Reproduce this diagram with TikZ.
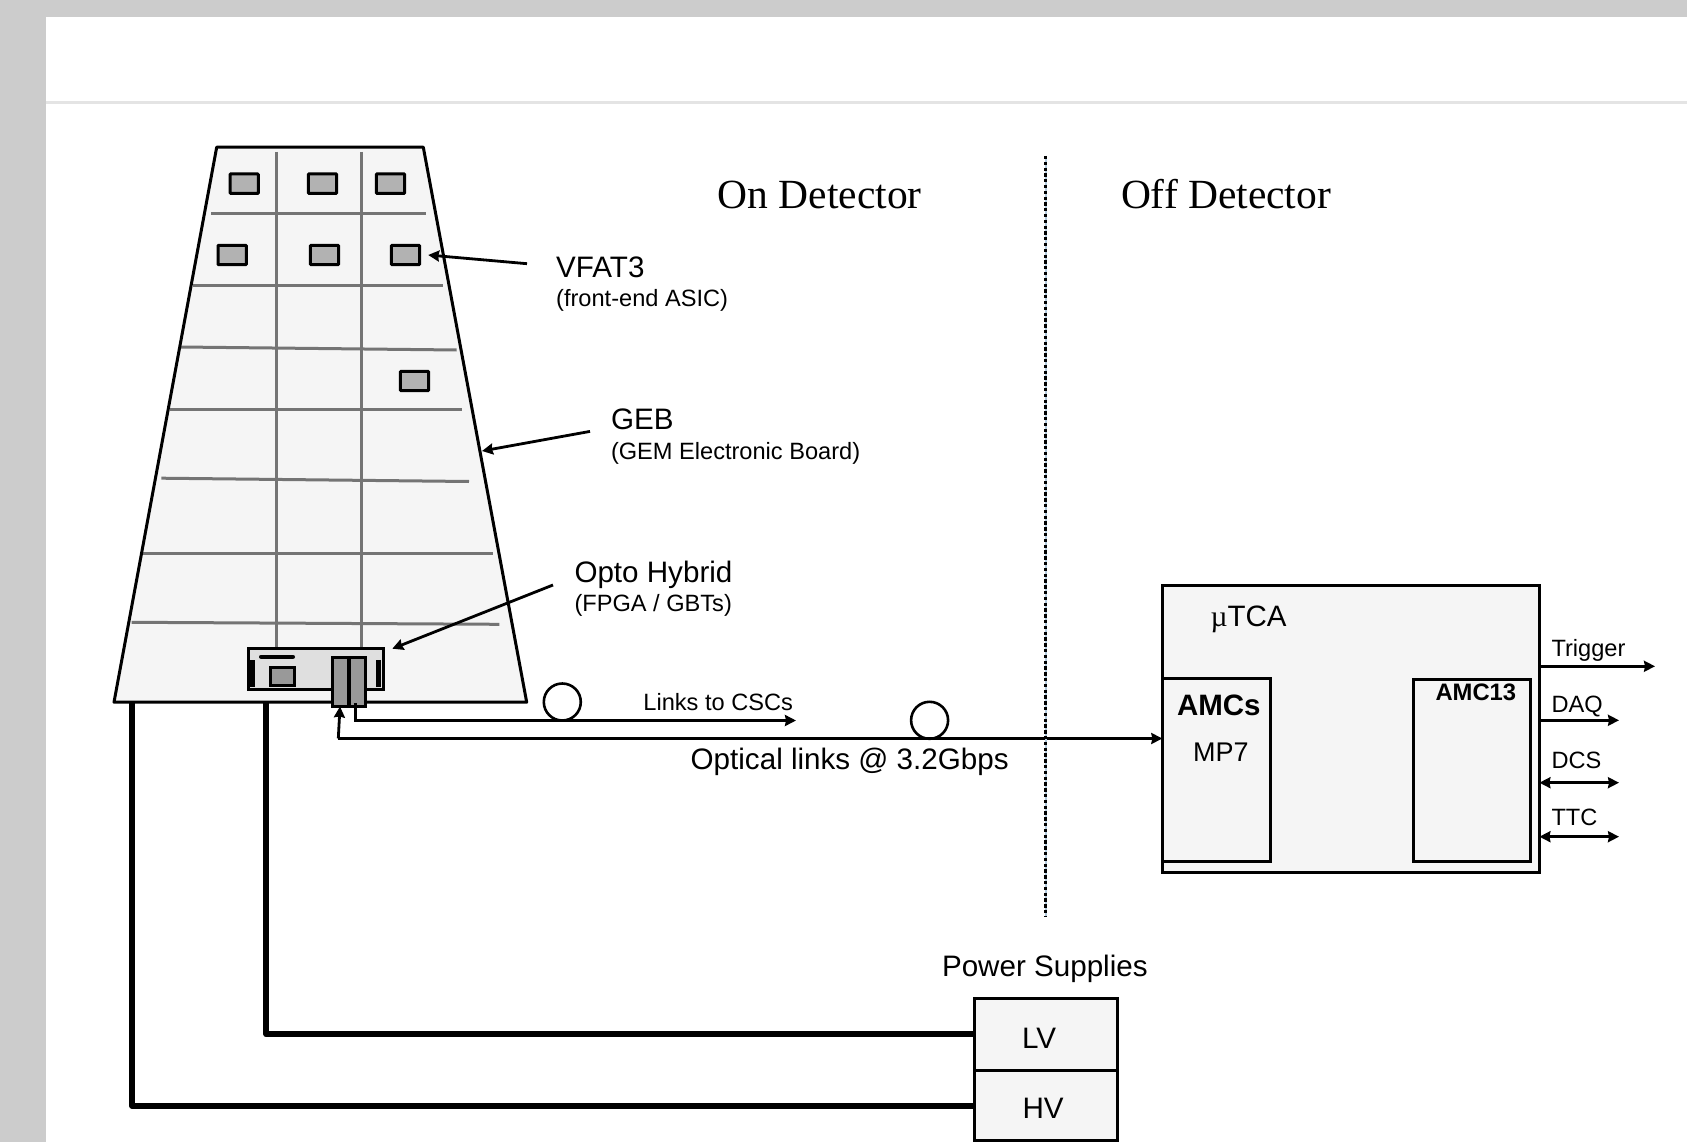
\documentclass[tikz,border=0pt]{standalone}
\usepackage{fontspec}
\setmainfont{Liberation Sans}
\newfontfamily\timesf{Liberation Serif}
\usetikzlibrary{arrows.meta}
\tikzset{
  x=1pt,y=-1pt,
  tip/.style={-{Stealth[length=11pt,width=11pt,inset=1pt]}},
  tiptwo/.style={{Stealth[length=11pt,width=11pt,inset=1pt]}-{Stealth[length=11pt,width=11pt,inset=1pt]}},
  conn/.style={draw=black,line width=2.8pt},
  panel/.style={draw=black,line width=3pt,fill=panelc,rectangle,inner sep=0pt,outer sep=0pt},
  vfat/.style={draw=black,line width=3pt,fill=vfatc,rectangle,inner sep=0pt,outer sep=0pt,rounded corners=0.8pt,minimum width=28.4pt,minimum height=19.4pt},
  grid line/.style={draw=gridc,line width=3pt},
  power/.style={draw=black,line width=6pt},
  lab/.style={anchor=base west,inner sep=0pt,outer sep=0pt,text=black},
  big/.style={lab,font=\fontsize{29.6}{32}\selectfont},
  small/.style={lab,font=\fontsize{23.6}{26}\selectfont},
  head/.style={lab,font=\timesf\fontsize{41.5}{44}\selectfont},
}
\definecolor{panelc}{HTML}{F5F5F5}
\definecolor{vfatc}{HTML}{B2B2B2}
\definecolor{gridc}{HTML}{747474}
\definecolor{frame}{HTML}{CCCCCC}
\definecolor{sepc}{HTML}{E4E4E4}
\definecolor{optoc}{HTML}{DFDFDF}
\definecolor{connc}{HTML}{999999}
\definecolor{dotc}{HTML}{B4CCE0}
\newcommand{\boxat}[6]{%
  \pgfmathsetmacro{\bw}{#5-#3}\pgfmathsetmacro{\bh}{#6-#4}%
  \node[#1,anchor=north west,minimum width=\bw pt,minimum height=\bh pt] (#2) at (#3,#4) {};}
\begin{document}
\begin{tikzpicture}
\useasboundingbox (0,0) rectangle (1687,1142);
% page frame
\fill[frame] (0,0) rectangle (1687,1142);
\fill[white] (46,17) rectangle (1687,1142);
\fill[sepc] (46,101) rectangle (1687,104);
% chamber
\coordinate (tl) at (216.7,147.2);
\coordinate (tr) at (423.3,147.2);
\coordinate (br) at (526.7,702.2);
\coordinate (bl) at (114,702.2);
\fill[panelc] (tl) -- (tr) -- (br) -- (bl) -- cycle;
% grid
\draw[grid line] (276,152) -- (276,648);
\draw[grid line] (361,152) -- (361,648);
\draw[grid line] (211,214) -- (426,214);
\draw[grid line] (193.3,285.7) -- (443.3,285.7);
\draw[grid line] (180,347) -- (456.7,350);
\draw[grid line] (170,409.3) -- (462.3,409.3);
\draw[grid line] (161.4,478.2) -- (469,481.5);
\draw[grid line] (143,553) -- (492.8,553);
\draw[grid line] (131.7,622.3) -- (499.3,624.3);
\draw[line width=3pt,line join=round] (tl) -- (tr) -- (br) -- (bl) -- cycle;
% VFATs
\node[vfat,anchor=north west] (v1) at (230,174) {};
\node[vfat,anchor=north west] (v2) at (308.3,174) {};
\node[vfat,anchor=north west] (v3) at (376.3,174) {};
\node[vfat,anchor=north west] (v4) at (218,245.3) {};
\node[vfat,anchor=north west] (v5) at (310.3,245.3) {};
\node[vfat,anchor=north west] (v6) at (391.3,245.3) {};
\node[vfat,anchor=north west] (v7) at (400.3,371.3) {};
% opto hybrid
\boxat{panel,fill=optoc}{opto}{248.3}{648.7}{383.3}{689.7}
\draw[line width=4pt,line cap=round] (261,656.7) -- (293,656.7);
\draw[line width=5pt] (252.7,660) -- (252.7,687.3);
\draw[line width=5pt] (378.7,660) -- (378.7,687.3);
\boxat{panel,fill=connc}{fpga}{270.3}{667}{294}{685.3}
\boxat{panel,fill=connc}{gbt}{332}{657.3}{365.3}{706}
\draw[line width=4.5pt] (349,657.3) -- (349,706);
% power lines
\boxat{panel}{lv}{974}{998.3}{1117.3}{1070}
\boxat{panel}{hv}{974}{1070}{1117.3}{1140.7}
\coordinate (lvs) at (266.3,703);
\coordinate (hvs) at (132,703);
\draw[power,line join=round] (lvs) -- (266.3,1034.3) -- (lv.west |- 0,1034.3);
\draw[power,line join=round] (hvs) -- (132,1105.7) -- (hv.west |- 0,1105.7);
% microTCA
\boxat{panel}{utca}{1162.3}{585.3}{1539.4}{872.3}
\boxat{panel}{amcs}{1162.3}{678.3}{1270.5}{861.7}
\boxat{panel}{amc13}{1413.5}{679.3}{1530}{861.7}
% fibre loops
\node[draw=black,line width=2.6pt,circle,inner sep=0pt,outer sep=0pt,minimum size=37pt] (loopa) at (562.3,702) {};
\node[draw=black,line width=2.6pt,circle,inner sep=0pt,outer sep=0pt,minimum size=37pt] (loopb) at (929.6,720.3) {};
% links
\coordinate (csc) at (796,720.5);
\draw[conn,tip] (355.7,703.3) -- (355.7,720.5) -- (csc);
\draw[conn,tip] (338.3,738.5) -- (340,706.5);
\draw[conn,tip] (338.3,738.5) -- (amcs.west |- 0,738.5);
% outputs
\coordinate (otrig) at (1655,666.3);
\coordinate (odaq) at (1619,720.3);
\coordinate (odcs) at (1619,782.7);
\coordinate (ottc) at (1619,836.7);
\draw[conn,tip] (utca.east |- otrig) -- (otrig);
\draw[conn,tip] (utca.east |- odaq) -- (odaq);
\draw[conn,tiptwo] (utca.east |- odcs) -- (odcs);
\draw[conn,tiptwo] (utca.east |- ottc) -- (ottc);
% callouts
\coordinate (cvfat) at (527,263.7);
\coordinate (cgeb) at (590,431.4);
\coordinate (cgebt) at (482,451);
\coordinate (copto) at (553,585);
\draw[conn,tip] (cvfat) -- ([xshift=8.5pt]v6.east);
\draw[conn,tip] (cgeb) -- (cgebt);
\draw[conn,tip] (copto) -- ([xshift=9pt]opto.north east);
% divider
\coordinate (da) at (1045.8,156);
\coordinate (db) at (1045.8,917);
\draw[line width=1.6pt,dotc] (da) -- (db);
\draw[line width=3.3pt,black,dash pattern=on 3.3pt off 2.5pt] (da) -- (db);
% labels
\node[head] (ton) at (717.6,208.8) {On Detector};
\node[head] (toff) at (1121,208.8) {Off Detector};
\node[big] (tvfat) at (556.2,277.6) {VFAT3};
\node[small] (tvfats) at (556.2,306.6) {(front-end ASIC)};
\node[big] (tgeb) at (611,429.3) {GEB};
\node[small] (tgebs) at (611,459.4) {(GEM Electronic Board)};
\node[big] (topto) at (574.5,582) {Opto Hybrid};
\node[small] (toptos) at (574.5,611) {(FPGA / GBTs)};
\node[small] (tcsc) at (643.4,710) {Links to CSCs};
\node[big] (tlinks) at (690.7,769) {Optical links @ 3.2Gbps};
\node[big] (tps) at (942,976.8) {Power Supplies};
\node[big] (tlv) at (1022,1048.2) {LV};
\node[big] (thv) at (1022.5,1118.6) {HV};
\node[big,font=\fontsize{29.5}{32}\selectfont] (tutca) at (1210.5,626.7) {{\timesf µ}TCA};
\node[big,font=\bfseries\fontsize{29.5}{32}\selectfont] (tamcs) at (1177,715.8) {AMCs};
\node[big,font=\fontsize{27}{30}\selectfont] (tmp) at (1193,761.2) {MP7};
\node[small,font=\bfseries\fontsize{23.8}{26}\selectfont] (tamc) at (1435.5,700.7) {AMC13};
\node[small] (ttrig) at (1551.5,656) {Trigger};
\node[small] (tdaq) at (1551.5,712) {DAQ};
\node[small] (tdcs) at (1551.5,768) {DCS};
\node[small] (tttc) at (1551.5,825) {TTC};
\end{tikzpicture}
\end{document}
